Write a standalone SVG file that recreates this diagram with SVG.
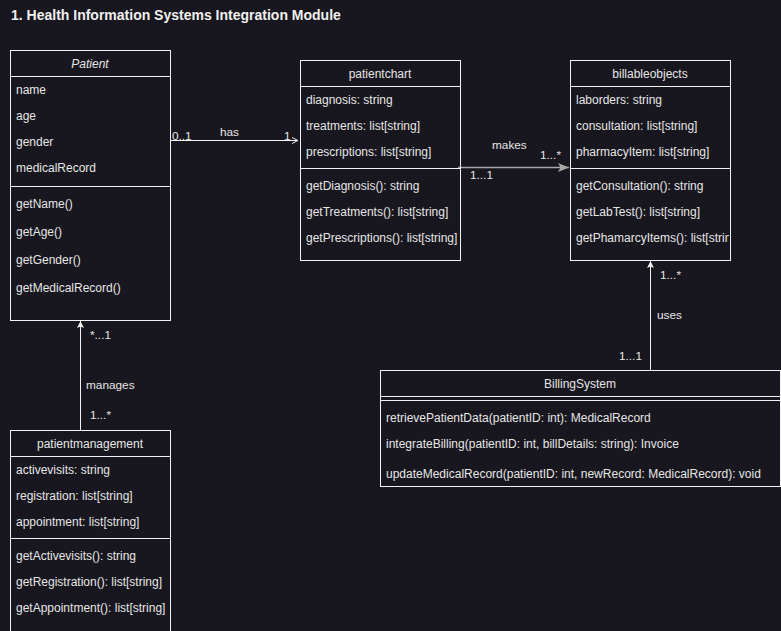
<svg xmlns="http://www.w3.org/2000/svg" width="781" height="631" viewBox="0 0 781 631">
<style>
text{font-family:"Liberation Sans",Arial,sans-serif;font-size:12px;fill:#e6e6e6;dominant-baseline:central}
.title{font-size:14px;font-weight:bold;fill:#f0f0f0;dominant-baseline:auto}
.hd{text-anchor:middle}
.box{fill:none;stroke:#f2f2f2;stroke-width:1}
.ln{stroke:#f2f2f2;stroke-width:1}
.conn{stroke:#f2f2f2;stroke-width:1;fill:none}
.lbl{font-size:11.8px}
</style>
<defs>
<marker id="fill" markerWidth="8" markerHeight="8" refX="7" refY="4" orient="auto" markerUnits="userSpaceOnUse">
<path d="M0,0.5 L7,4 L0,7.5 L1.5,4 Z" fill="#f2f2f2"/>
</marker>
<marker id="fillg" markerWidth="12" markerHeight="10" refX="11" refY="5" orient="auto" markerUnits="userSpaceOnUse">
<path d="M0,0.5 L11,5 L0,9.5 L2.5,5 Z" fill="#a8a8a8"/>
</marker>
<marker id="open" markerWidth="8" markerHeight="8" refX="7" refY="4" orient="auto" markerUnits="userSpaceOnUse">
<path d="M1,1 L7,4 L1,7" fill="none" stroke="#f2f2f2" stroke-width="1"/>
</marker>
<clipPath id="cb"><rect x="571" y="60" width="158" height="200"/></clipPath>
</defs>
<rect width="781" height="631" fill="#18161e"/>
<text class="title" x="11" y="20">1. Health Information Systems Integration Module</text>

<g id="connectors">
<line class="conn" x1="170.5" y1="140.5" x2="298" y2="140.5" marker-end="url(#open)"/>
<line x1="458" y1="167.5" x2="569" y2="167.5" stroke="#a8a8a8" stroke-width="1.5" marker-end="url(#fillg)"/>
<line class="conn" x1="80.5" y1="430" x2="80.5" y2="321" marker-end="url(#fill)"/>
<line class="conn" x1="650.5" y1="370" x2="650.5" y2="261" marker-end="url(#fill)"/>
<text class="lbl" x="172" y="136">0..1</text>
<text class="lbl" x="220" y="132">has</text>
<text class="lbl" x="284" y="136">1</text>
<text class="lbl" x="492" y="145">makes</text>
<text class="lbl" x="540" y="155">1...*</text>
<text class="lbl" x="470" y="175">1...1</text>
<text class="lbl" x="90" y="335">*...1</text>
<text class="lbl" x="86" y="385">manages</text>
<text class="lbl" x="90" y="415">1...*</text>
<text class="lbl" x="660" y="275">1...*</text>
<text class="lbl" x="657" y="315">uses</text>
<text class="lbl" x="619" y="356">1...1</text>
</g>

<g id="patient">
<rect class="box" x="10.5" y="50.5" width="160" height="270"/>
<line class="ln" x1="10.5" y1="76.5" x2="170.5" y2="76.5"/>
<line class="ln" x1="10.5" y1="186.5" x2="170.5" y2="186.5"/>
<text class="hd" x="90" y="64" font-style="italic">Patient</text>
<text x="16" y="90">name</text>
<text x="16" y="116">age</text>
<text x="16" y="142">gender</text>
<text x="16" y="168">medicalRecord</text>
<text x="16" y="204">getName()</text>
<text x="16" y="232">getAge()</text>
<text x="16" y="260">getGender()</text>
<text x="16" y="288">getMedicalRecord()</text>
</g>

<g id="patientchart">
<rect class="box" x="300.5" y="60.5" width="160" height="200"/>
<line class="ln" x1="300.5" y1="86.5" x2="460.5" y2="86.5"/>
<line class="ln" x1="300.5" y1="168.5" x2="460.5" y2="168.5"/>
<text class="hd" x="380" y="74">patientchart</text>
<text x="306" y="100">diagnosis: string</text>
<text x="306" y="126">treatments: list[string]</text>
<text x="306" y="152">prescriptions: list[string]</text>
<text x="306" y="186">getDiagnosis(): string</text>
<text x="306" y="212">getTreatments(): list[string]</text>
<text x="306" y="238">getPrescriptions(): list[string]</text>
</g>

<g id="billableobjects">
<rect class="box" x="570.5" y="60.5" width="160" height="200"/>
<line class="ln" x1="570.5" y1="86.5" x2="730.5" y2="86.5"/>
<line class="ln" x1="570.5" y1="168.5" x2="730.5" y2="168.5"/>
<text class="hd" x="650" y="74">billableobjects</text>
<g clip-path="url(#cb)">
<text x="576" y="100">laborders: string</text>
<text x="576" y="126">consultation: list[string]</text>
<text x="576" y="152">pharmacyItem: list[string]</text>
<text x="576" y="186">getConsultation(): string</text>
<text x="576" y="212">getLabTest(): list[string]</text>
<text x="576" y="238">getPhamarcyItems(): list[string]</text>
</g>
</g>

<g id="patientmanagement">
<rect class="box" x="10.5" y="430.5" width="160" height="220"/>
<line class="ln" x1="10.5" y1="456.5" x2="170.5" y2="456.5"/>
<line class="ln" x1="10.5" y1="538.5" x2="170.5" y2="538.5"/>
<text class="hd" x="90" y="444">patientmanagement</text>
<text x="16" y="470">activevisits: string</text>
<text x="16" y="496">registration: list[string]</text>
<text x="16" y="522">appointment: list[string]</text>
<text x="16" y="556">getActivevisits(): string</text>
<text x="16" y="582">getRegistration(): list[string]</text>
<text x="16" y="608">getAppointment(): list[string]</text>
</g>

<g id="billingsystem">
<rect class="box" x="380.5" y="370.5" width="400" height="116"/>
<line class="ln" x1="380.5" y1="396.5" x2="780.5" y2="396.5"/>
<line class="ln" x1="380.5" y1="400.5" x2="780.5" y2="400.5"/>
<text class="hd" x="580" y="384">BillingSystem</text>
<text x="386" y="418">retrievePatientData(patientID: int): MedicalRecord</text>
<text x="386" y="444">integrateBilling(patientID: int, billDetails: string): Invoice</text>
<text x="386" y="474">updateMedicalRecord(patientID: int, newRecord: MedicalRecord): void</text>
</g>
</svg>
